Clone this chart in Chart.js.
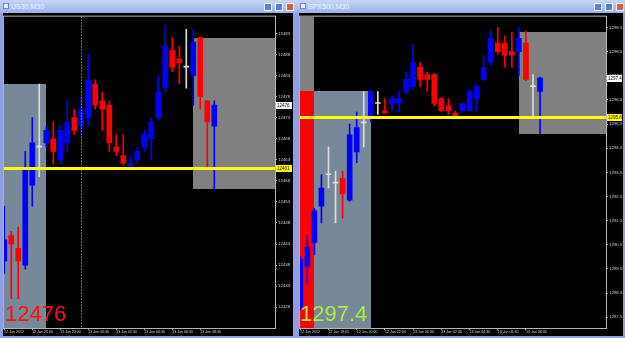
<!DOCTYPE html>
<html>
<head>
<meta charset="utf-8">
<script src="https://cdn.jsdelivr.net/npm/chart.js@4/dist/chart.umd.min.js"></script>
<style>
  html, body { margin: 0; padding: 0; }
  body { width: 625px; height: 338px; position: relative; overflow: hidden; background: #8d9fe2; font-family: "Liberation Sans", Arial, sans-serif; }
  .title { position: absolute; top: 0; height: 13px; background: linear-gradient(#c6d6f6, #9bb2ea); }
  .title .name { position: absolute; left: 11px; top: 2px; font-size: 7px; line-height: 9px; color: #eef3ff; }
  .title .icon { position: absolute; left: 3px; top: 3px; width: 6px; height: 6px; background: #e4ebf8; border: 1px solid #6d86c8; box-sizing: border-box; }
  .btn { position: absolute; top: 3px; width: 8px; height: 8px; background: #5a7fe0; border: 1px solid #f4f6ff; box-sizing: border-box; }
  .btn.close { background: #d9603f; }
  canvas { position: absolute; top: 13px; background: #000; }
  .big { position: absolute; top: 303px; font-size: 22px; line-height: 22px; }
</style>
</head>
<body>
<div class="title" style="left:0;width:297px">
  <div class="icon"></div><span class="name">US30,M30</span>
  <div class="btn" style="left:264px"></div><div class="btn" style="left:275px"></div><div class="btn close" style="left:286px"></div>
</div>
<div class="title" style="left:297px;width:328px">
  <div class="icon"></div><span class="name">SPX500,M30</span>
  <div class="btn" style="left:297px"></div><div class="btn" style="left:308px"></div><div class="btn close" style="left:319px"></div>
</div>
<canvas id="usChart" width="290" height="323" style="left:3px"></canvas>
<canvas id="spxChart" width="324" height="323" style="left:299px"></canvas>
<div class="big" id="usPrice" style="left:5px;color:#ff1010"></div>
<div class="big" id="spxPrice" style="left:300px;color:#a6f03e"></div>

<script>
// US30 M30, one bar per 30 minutes from 12 Jan 18:00
const usOpen  = [12439, 12445, 12442, 12438, 12457, 12466, 12467, 12468, 12463, 12467, 12473, 12471, 12473, 12481, 12477, 12476,
                 12466, 12464, 12461.5, 12463, 12466, 12468, 12473, 12480, 12489, 12487, 12485, 12483, 12492, 12477, 12471];
const usHigh  = [12452, 12446, 12447, 12465, 12473, 12481, 12471, 12472, 12471, 12477, 12475, 12478, 12488, 12482, 12479, 12477,
                 12469, 12469, 12464, 12466, 12470, 12473, 12483, 12495, 12492, 12490, 12494, 12494, 12492, 12477, 12477];
const usLow   = [12436, 12430, 12430, 12437, 12452, 12459, 12466, 12462, 12462, 12465, 12469, 12469, 12471, 12475, 12470, 12465,
                 12464, 12461.8, 12461, 12462, 12465, 12463, 12472.5, 12479, 12484, 12481, 12480, 12476, 12475, 12461, 12456];
const usClose = [12444, 12443, 12439, 12461, 12467, 12466, 12470, 12465, 12470, 12472, 12470, 12475, 12482, 12476, 12475, 12467,
                 12465, 12462.2, 12462.2, 12465, 12469, 12472, 12479, 12490, 12485, 12486, 12485, 12491, 12478, 12472, 12476];
const usTimeIndex  = [0, 4, 8, 12, 16, 20, 24, 28];
const usTimeLabels = ['12 Jan 2012', '12 Jan 20:00', '12 Jan 22:00', '13 Jan 00:30', '13 Jan 02:30', '13 Jan 04:30', '13 Jan 06:30', '13 Jan 08:30'];
const usPriceTicks = [12428, 12433, 12438, 12443, 12448, 12453, 12458, 12463, 12468, 12473, 12478, 12483, 12488, 12493];
const usLevel = 12461;
const usSeparator = 11;
const usBoxFrom   = [-3, 27];
const usBoxTo     = [6, 60];
const usBoxTop    = [12481, 12492];
const usBoxBottom = [12400, 12456];

// SPX500 M30, one bar per 30 minutes from 12 Jan 16:00
const spxOpen  = [1287.9, 1289.6, 1290.6, 1292.1, 1293.4, 1293.05, 1293.25, 1292.35, 1294.35, 1295.55, 1295.85, 1296.35,
                  1296.05, 1296.35, 1296.35, 1296.85, 1297.05, 1297.85, 1297.55, 1297.55, 1296.55, 1296.25, 1295.95, 1296.05,
                  1296.05, 1296.55, 1297.35, 1298.05, 1298.85, 1298.85, 1298.5, 1298.5, 1298.85, 1297.05, 1296.85];
const spxHigh  = [1290.0, 1290.9, 1292.0, 1293.4, 1294.55, 1293.55, 1293.55, 1295.5, 1296.0, 1296.85, 1296.9, 1296.85,
                  1296.55, 1296.65, 1296.85, 1297.65, 1298.8, 1298.05, 1297.65, 1297.6, 1296.6, 1296.55, 1296.05, 1296.35,
                  1296.95, 1297.1, 1298.35, 1299.35, 1299.5, 1299.15, 1299.3, 1299.5, 1299.35, 1297.55, 1297.45];
const spxLow   = [1287.8, 1288.9, 1290.1, 1291.4, 1292.85, 1291.4, 1291.6, 1292.3, 1293.9, 1294.55, 1295.6, 1295.9,
                  1295.95, 1296.05, 1296.0, 1296.75, 1296.95, 1297.05, 1296.85, 1296.25, 1296.0, 1295.9, 1295.85, 1296.0,
                  1296.0, 1296.05, 1297.3, 1297.95, 1298.4, 1297.85, 1297.85, 1297.5, 1297.3, 1295.85, 1295.1];
const spxClose = [1289.9, 1290.4, 1291.9, 1292.85, 1293.4, 1293.05, 1292.6, 1295.05, 1295.35, 1295.55, 1296.85, 1296.35,
                  1295.95, 1296.55, 1296.55, 1297.35, 1298.05, 1297.35, 1297.35, 1296.35, 1296.05, 1296.05, 1295.85, 1296.35,
                  1296.85, 1297.05, 1297.85, 1299.05, 1298.5, 1298.35, 1298.35, 1299.05, 1297.35, 1297.05, 1297.4];
const spxTimeIndex  = [0, 4, 8, 12, 16, 20, 24, 28, 32];
const spxTimeLabels = ['12 Jan 2012', '12 Jan 18:00', '12 Jan 20:00', '12 Jan 22:00', '13 Jan 00:30', '13 Jan 02:30', '13 Jan 04:30', '13 Jan 06:30', '13 Jan 08:30'];
const spxPriceTicks = [1287.5, 1288.5, 1289.5, 1290.5, 1291.5, 1292.5, 1293.5, 1294.5, 1295.5, 1296.5, 1297.5, 1298.5, 1299.5];
const spxLevel = 1295.8;
const spxBoxFrom   = [-3, -3, 2, 31];
const spxBoxTo     = [2, 2, 10, 60];
const spxBoxTop    = [1296.85, 1305, 1296.85, 1299.3];
const spxBoxBottom = [1280, 1296.85, 1280, 1295.1];

const UP = '#0000ff', DOWN = '#ff0000', FLAT = '#dcdcdc';

// boxes behind the bars, level line + frame on top, price tags on the axis
const panelPlugin = {
    id: 'panel',
    beforeDatasetsDraw(chart, args, opts) {
        const { ctx, chartArea: a, scales: { x, y } } = chart;
        ctx.save();
        ctx.beginPath();
        ctx.rect(a.left, a.top, a.width, a.height);
        ctx.clip();
        opts.boxes.forEach(b => {
            const x0 = Math.round(x.getPixelForValue(b.from));
            const x1 = Math.round(x.getPixelForValue(b.to));
            const y0 = Math.round(y.getPixelForValue(b.top));
            const y1 = Math.round(y.getPixelForValue(b.bottom));
            ctx.fillStyle = b.color;
            ctx.fillRect(x0, y0, x1 - x0, y1 - y0);
        });
        ctx.restore();
    },
    afterDatasetsDraw(chart, args, opts) {
        const { ctx, chartArea: a, scales: { x, y } } = chart;
        ctx.save();
        if (opts.separator !== null) {
            const px = Math.round(x.getPixelForValue(opts.separator)) + 0.5;
            ctx.strokeStyle = '#c8c8c8';
            ctx.lineWidth = 1;
            ctx.setLineDash([1, 2]);
            ctx.beginPath();
            ctx.moveTo(px, a.top);
            ctx.lineTo(px, a.bottom);
            ctx.stroke();
            ctx.setLineDash([]);
        }
        const ly = Math.round(y.getPixelForValue(opts.level));
        ctx.fillStyle = '#ffff00';
        ctx.fillRect(a.left, ly - 1, a.width, 3);
        ctx.strokeStyle = '#b4b4b4';
        ctx.lineWidth = 1;
        ctx.strokeRect(a.left - 0.5, a.top - 0.5, a.width + 1, a.height + 1);
        ctx.restore();
    },
    afterDraw(chart, args, opts) {
        const { ctx, chartArea: a, scales: { y } } = chart;
        ctx.save();
        ctx.font = '4.5px "Liberation Sans"';
        ctx.textBaseline = 'middle';
        opts.tags.forEach(t => {
            const py = Math.round(y.getPixelForValue(t.value));
            ctx.fillStyle = t.color;
            ctx.fillRect(a.right + 1, py - 3, chart.width - a.right - 2, 7);
            ctx.fillStyle = '#000';
            ctx.fillText(t.text, a.right + 2, py + 0.5);
        });
        ctx.restore();
    }
};

function buildPanel(canvasId, p) {
    const colors = p.open.map((o, i) => p.close[i] > o ? UP : (p.close[i] < o ? DOWN : FLAT));
    const bodies = p.open.map((o, i) => ({ x: i, y: [o, p.close[i]] }));
    const wicks = p.low.map((l, i) => ({ x: i, y: [l, p.high[i]] }));
    const last = p.close[p.close.length - 1];

    return new Chart(document.getElementById(canvasId), {
        type: 'bar',
        data: {
            datasets: [
                { data: wicks, backgroundColor: colors, barThickness: 1, grouped: false, order: 2 },
                { data: bodies, backgroundColor: colors, barThickness: 5, minBarLength: 1, grouped: false, order: 1 }
            ]
        },
        options: {
            responsive: false,
            animation: false,
            events: [],
            layout: { padding: { left: 1, top: 1, right: 0, bottom: 0 } },
            plugins: {
                legend: { display: false },
                tooltip: { enabled: false },
                panel: {
                    boxes: p.boxes,
                    level: p.level,
                    separator: p.separator,
                    tags: [
                        { value: last, text: p.fmt(last), color: '#ffffff' },
                        { value: p.level, text: p.fmt(p.level), color: '#ffff00' }
                    ]
                }
            },
            scales: {
                x: {
                    type: 'linear',
                    min: p.xMin,
                    max: p.xMax,
                    offset: false,
                    border: { display: false },
                    grid: { offset: false, drawOnChartArea: false, tickLength: 2, color: '#b4b4b4' },
                    ticks: {
                        color: '#d0d0d0',
                        font: { family: 'Liberation Sans', size: 3.6 },
                        padding: 0,
                        align: 'start',
                        autoSkip: false,
                        maxRotation: 0,
                        callback: v => p.timeLabels[p.timeIndex.indexOf(v)]
                    },
                    afterBuildTicks: s => { s.ticks = p.timeIndex.map(v => ({ value: v })); },
                    afterFit: s => { s.height = 8; }
                },
                y: {
                    position: 'right',
                    min: p.yMin,
                    max: p.yMax,
                    border: { display: false },
                    grid: { drawOnChartArea: false, tickLength: 2, color: '#b4b4b4' },
                    ticks: {
                        color: '#d0d0d0',
                        font: { family: 'Liberation Sans', size: 4.4 },
                        padding: 1,
                        callback: v => p.fmt(v)
                    },
                    afterBuildTicks: s => { s.ticks = p.priceTicks.map(v => ({ value: v })); },
                    afterFit: s => { s.width = p.axisWidth; }
                }
            }
        },
        plugins: [panelPlugin]
    });
}

const zip = (from, to, top, bottom, colors) =>
    from.map((f, i) => ({ from: f, to: to[i], top: top[i], bottom: bottom[i], color: colors[i] }));

buildPanel('usChart', {
    open: usOpen, high: usHigh, low: usLow, close: usClose,
    timeIndex: usTimeIndex, timeLabels: usTimeLabels, priceTicks: usPriceTicks,
    level: usLevel, separator: usSeparator,
    boxes: zip(usBoxFrom, usBoxTo, usBoxTop, usBoxBottom, ['#778899', '#808080']),
    xMin: -0.04, xMax: 38.67, yMin: 12423.05, yMax: 12497.0, axisWidth: 18,
    fmt: v => String(Math.round(v))
});

buildPanel('spxChart', {
    open: spxOpen, high: spxHigh, low: spxLow, close: spxClose,
    timeIndex: spxTimeIndex, timeLabels: spxTimeLabels, priceTicks: spxPriceTicks,
    level: spxLevel, separator: null,
    boxes: zip(spxBoxFrom, spxBoxTo, spxBoxTop, spxBoxBottom, ['#ff0000', '#808080', '#778899', '#808080']),
    xMin: -0.04, xMax: 43.35, yMin: 1287.05, yMax: 1299.95, axisWidth: 17,
    fmt: v => v.toFixed(1)
});

document.getElementById('usPrice').textContent = String(usClose[usClose.length - 1]);
document.getElementById('spxPrice').textContent = spxClose[spxClose.length - 1].toFixed(1);
</script>
</body>
</html>
